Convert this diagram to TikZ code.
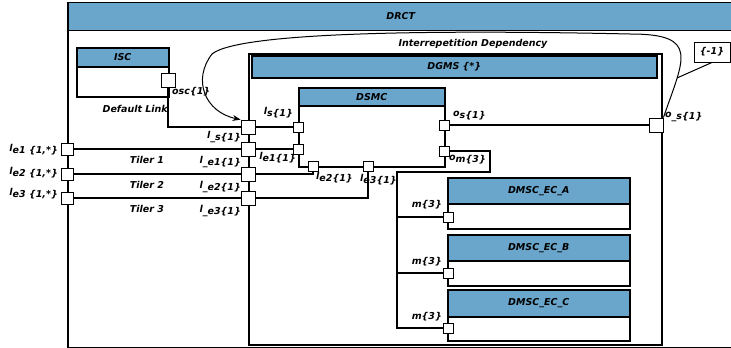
\documentclass[tikz,border=0pt]{standalone}
\usepackage{fontspec}
\setmainfont{DejaVu Sans}
\usetikzlibrary{arrows.meta}
\definecolor{hdrblue}{RGB}{106,166,203}
\tikzset{
  box/.style={draw, line width=1.5pt, fill=white, anchor=north west, inner sep=0pt},
  hdr/.style={box, fill=hdrblue},
  port/.style={draw, line width=0.8pt, fill=white, minimum size=14pt, inner sep=0pt},
  sport/.style={port, minimum size=10pt},
  lbl/.style={inner sep=1pt},
  wire/.style={line width=1.3pt},
}
\newcommand{\pl}[3]{\raisebox{2pt}{#1}#2\{#3\}}

\begin{document}
\begin{tikzpicture}[x=1pt,y=-1pt,font=\fontsize{9.5}{11}\selectfont\bfseries\itshape]
\useasboundingbox (0,0) rectangle (731,348);
\clip (0,0) rectangle (731,348);

% components
\node[box, minimum width=666, minimum height=345] (drct) at (67,1.5) {};
\node[hdr, minimum width=666, minimum height=28] (drcth) at (67,1.5) {DRCT};
\node[box, minimum width=92, minimum height=49] (isc) at (76,47) {};
\node[hdr, minimum width=92, minimum height=19] (isch) at (76,47) {ISC};
\node[box, minimum width=413, minimum height=291] (dgms) at (248,53) {};
\node[hdr, minimum width=405, minimum height=22] (dgmsh) at (251,55) {DGMS \{*\}};
\node[box, minimum width=146, minimum height=79] (dsmc) at (298,87) {};
\node[hdr, minimum width=146, minimum height=18] (dsmch) at (298,87) {DSMC};
\foreach \n/\y/\h in {A/177/26,B/234/26,C/289/27} {
  \node[box, minimum width=182, minimum height=51] (ec\n) at (447,\y) {};
  \node[hdr, minimum width=182, minimum height=\h] (ec\n h) at (447,\y) {DMSC\_EC\_\n};
}

% ports
\node[port] (iscosc) at (168,80) {};
\node[port, minimum size=12pt] (oe1) at (67,149) {};
\node[port, minimum size=12pt] (oe2) at (67,174) {};
\node[port, minimum size=12pt] (oe3) at (67,198) {};
\node[port] (gls) at (248,127) {};
\node[port] (gle1) at (248,149) {};
\node[port] (gle2) at (248,174) {};
\node[port] (gle3) at (248,198) {};
\node[port] (gos) at (656,125) {};
\node[sport] (dls) at (298,127) {};
\node[sport] (dle1) at (298,149) {};
\node[sport] (dle2) at (313,166) {};
\node[sport] (dle3) at (368,166) {};
\node[sport] (dos) at (444,125) {};
\node[sport] (dom) at (444,151) {};
\node[sport] (ma) at (448,217) {};
\node[sport] (mb) at (448,273) {};
\node[sport] (mc) at (448,328) {};

% links
\draw[wire] (iscosc.south) |- (gls.west);
\draw[wire] (gls.east) -- (dls.west);
\draw[wire] (oe1.east) -- node[pos=0.44, below=3pt]{Tiler 1} (gle1.west);
\draw[wire] (oe2.east) -- node[pos=0.44, below=3pt]{Tiler 2} (gle2.west);
\draw[wire] (oe3.east) -- node[pos=0.44, below=3pt]{Tiler 3} (gle3.west);
\draw[wire] (gle1.east) -- (dle1.west);
\draw[wire] (gle2.east) -| (dle2.south);
\draw[wire] (gle3.east) -| (dle3.south);
\draw[wire] (dos.east) -- (gos.west);
\coordinate (omr) at (490,151);
\coordinate (mbus) at (397,172);
\draw[wire] (dom.east) -- (omr) |- (mbus) |- (mc.west);
\draw[wire] (mbus) |- (ma.west);
\draw[wire] (mbus) |- (mb.west);

% dependency loop
\draw[line width=1pt, -{Stealth[length=8pt,width=6pt]}] (gos.north east)
  .. controls (684,58) and (700,34) .. (630,34)
  .. controls (450,30) and (240,31) .. (212,54)
  .. controls (192,80) and (205,112) .. (gls.north west);
\node[lbl] (dep) at (473,44) {Interrepetition Dependency};
\node[draw, line width=0.9pt, fill=white, minimum width=36, minimum height=20, inner sep=0pt] (negone) at (712,52) {\{-1\}};
\coordinate (depmark) at (677,78);
\draw[line width=1pt] (negone.south) -- (depmark);

% labels
\node[lbl, anchor=west] (osclbl) at (171,92) {osc\{1\}};
\node[lbl, anchor=east] (dlink) at (169,109) {Default Link};
\node[lbl, anchor=east] (oe1lbl) at (59,150) {\pl{l}{e1~}{1,*}};
\node[lbl, anchor=east] (oe2lbl) at (59,173) {\pl{l}{e2~}{1,*}};
\node[lbl, anchor=east] (oe3lbl) at (59,194) {\pl{l}{e3~}{1,*}};
\node[lbl, anchor=east] (glslbl) at (242,137) {\pl{l}{\_s}{1}};
\node[lbl, anchor=east] (gle1lbl) at (242,162) {\pl{l}{\_e1}{1}};
\node[lbl, anchor=east] (gle2lbl) at (242,187) {\pl{l}{\_e2}{1}};
\node[lbl, anchor=east] (gle3lbl) at (242,211) {\pl{l}{\_e3}{1}};
\node[lbl, anchor=west] (goslbl) at (664,117) {\pl{o}{\_s}{1}};
\node[lbl, anchor=east] (dlslbl) at (294,113) {\pl{l}{s}{1}};
\node[lbl, anchor=east] (dle1lbl) at (297,158) {\pl{l}{e1}{1}};
\node[lbl, anchor=west] (dle2lbl) at (315,178) {\pl{l}{e2}{1}};
\node[lbl, anchor=west] (dle3lbl) at (359,180) {\pl{l}{e3}{1}};
\node[lbl, anchor=west] (doslbl) at (452,116) {\pl{o}{s}{1}};
\node[lbl, anchor=west] (domlbl) at (448,160) {\pl{o}{m}{3}};
\foreach \n/\y in {a/205,b/262,c/317}
  \node[lbl, anchor=east] (m\n lbl) at (443,\y) {m\{3\}};

\end{tikzpicture}
\end{document}
